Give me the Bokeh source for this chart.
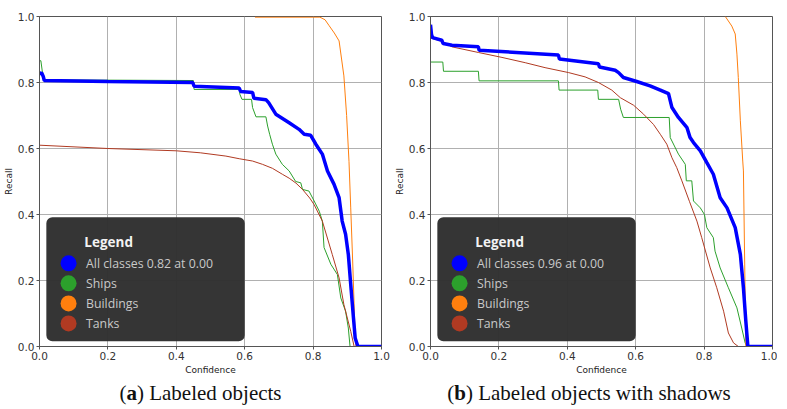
from bokeh.plotting import figure
from bokeh.models import BoxAnnotation, Div, ColumnDataSource, PrintfTickFormatter
from bokeh.layouts import row, column
from bokeh.core.properties import value
from bokeh.embed import file_html
from bokeh.resources import INLINE

# ---------------- data ----------------
series_names = ["All classes", "Ships", "Buildings", "Tanks"]
series_colors = ["#0000ff", "#2ca02c", "#ff7f0e", "#b03a22"]
legend_labels_a = ["All classes 0.82 at 0.00", "Ships", "Buildings", "Tanks"]
legend_labels_b = ["All classes 0.96 at 0.00", "Ships", "Buildings", "Tanks"]
tick_values = [0.0, 0.2, 0.4, 0.6, 0.8, 1.0]
captions = ["(<b>a</b>) Labeled objects", "(<b>b</b>) Labeled objects with shadows"]

# (a) Labeled objects
all_a_c = [0.0, 0.006, 0.011, 0.014, 0.2, 0.448, 0.452, 0.584, 0.588, 0.623, 0.627,
           0.662, 0.67, 0.691, 0.73, 0.759, 0.774, 0.793, 0.808, 0.827, 0.842, 0.861,
           0.876, 0.885, 0.895, 0.903, 0.91, 0.918, 0.923, 0.931, 1.0]
all_a_r = [0.825, 0.83, 0.818, 0.806, 0.803, 0.800, 0.789, 0.783, 0.773, 0.770, 0.752,
           0.748, 0.739, 0.704, 0.678, 0.658, 0.643, 0.640, 0.613, 0.583, 0.532, 0.492,
           0.451, 0.38, 0.34, 0.279, 0.188, 0.087, 0.026, 0.0, 0.0]
ships_a_c = [0.0, 0.004, 0.008, 0.013, 0.45, 0.452, 0.584, 0.586, 0.592, 0.62, 0.623,
             0.633, 0.662, 0.667, 0.673, 0.681, 0.691, 0.71, 0.73, 0.749, 0.764, 0.769,
             0.788, 0.803, 0.818, 0.827, 0.832, 0.852, 0.871, 0.881, 0.895, 0.903, 0.908]
ships_a_r = [0.866, 0.866, 0.835, 0.808, 0.806, 0.779, 0.779, 0.764, 0.749, 0.749, 0.724,
             0.696, 0.696, 0.668, 0.643, 0.613, 0.583, 0.552, 0.532, 0.50, 0.496, 0.476,
             0.471, 0.441, 0.41, 0.38, 0.30, 0.249, 0.218, 0.147, 0.107, 0.056, 0.0]
buildings_a_c = [0.63, 0.82, 0.835, 0.847, 0.862, 0.876, 0.89, 0.898, 0.905, 0.91,
                 0.916, 0.922, 0.925]
buildings_a_r = [0.998, 0.998, 0.99, 0.972, 0.95, 0.926, 0.82, 0.70, 0.56, 0.42,
                 0.25, 0.06, 0.0]
tanks_a_c = [0.0, 0.2, 0.4, 0.47, 0.545, 0.584, 0.623, 0.652, 0.681, 0.71, 0.73, 0.75,
             0.769, 0.79, 0.803, 0.827, 0.856, 0.876, 0.89, 0.91, 0.92]
tanks_a_r = [0.61, 0.60, 0.593, 0.587, 0.577, 0.569, 0.562, 0.552, 0.540, 0.522, 0.51,
             0.495, 0.476, 0.45, 0.43, 0.38, 0.279, 0.208, 0.127, 0.046, 0.0]

# (b) Labeled objects with shadows
all_b_c = [0.0, 0.003, 0.006, 0.033, 0.037, 0.063, 0.14, 0.142, 0.374, 0.377, 0.491,
           0.494, 0.54, 0.55, 0.564, 0.603, 0.642, 0.672, 0.696, 0.706, 0.725, 0.75,
           0.759, 0.769, 0.789, 0.808, 0.827, 0.847, 0.867, 0.891, 0.906, 0.915, 0.922,
           0.928, 1.0]
all_b_r = [0.975, 0.945, 0.936, 0.928, 0.918, 0.913, 0.908, 0.898, 0.883, 0.871, 0.857,
           0.847, 0.837, 0.83, 0.815, 0.803, 0.79, 0.777, 0.766, 0.724, 0.694, 0.663,
           0.633, 0.618, 0.593, 0.557, 0.522, 0.451, 0.42, 0.36, 0.279, 0.178, 0.077,
           0.0, 0.0]
ships_b_c = [0.0, 0.0, 0.036, 0.038, 0.14, 0.142, 0.374, 0.376, 0.489, 0.491, 0.55,
             0.556, 0.564, 0.698, 0.701, 0.725, 0.745, 0.748, 0.764, 0.769, 0.789,
             0.801, 0.808, 0.827, 0.832, 0.847, 0.871, 0.896, 0.91, 0.92, 0.925]
ships_b_r = [0.95, 0.862, 0.862, 0.834, 0.834, 0.805, 0.805, 0.777, 0.777, 0.749, 0.749,
             0.719, 0.694, 0.694, 0.633, 0.583, 0.552, 0.502, 0.502, 0.441, 0.42,
             0.40, 0.36, 0.33, 0.289, 0.238, 0.178, 0.117, 0.056, 0.011, 0.0]
buildings_b_c = [0.862, 0.881, 0.891, 0.896, 0.90, 0.906, 0.913, 0.915, 0.922]
buildings_b_r = [1.0, 0.971, 0.947, 0.886, 0.815, 0.684, 0.562, 0.532, 0.0]
tanks_b_c = [0.0, 0.033, 0.063, 0.14, 0.209, 0.277, 0.335, 0.404, 0.452, 0.491, 0.53,
             0.555, 0.594, 0.623, 0.652, 0.672, 0.691, 0.706, 0.72, 0.735, 0.757, 0.779,
             0.793, 0.818, 0.837, 0.857, 0.871, 0.886, 0.90]
tanks_b_r = [0.935, 0.925, 0.908, 0.891, 0.876, 0.86, 0.845, 0.83, 0.817, 0.80, 0.777,
             0.754, 0.731, 0.704, 0.673, 0.643, 0.613, 0.572, 0.542, 0.502, 0.44, 0.38,
             0.33, 0.238, 0.178, 0.107, 0.041, 0.011, 0.0]

# legend layout (data units inside each panel)
LEG_BOX = dict(left=0.02, right=0.6, bottom=0.016, top=0.392)
LEG_TITLE_XY = (0.131, 0.316)
LEG_MARK_X = 0.085
LEG_TEXT_X = 0.136
LEG_ROW0 = 0.252
LEG_ROW_STEP = 0.0607


def make_panel(curves, legend_labels, border_left, border_right):
    p = figure(frame_width=342, frame_height=330, x_range=(0, 1), y_range=(0, 1),
               output_backend="svg", toolbar_location=None,
               min_border_left=border_left, min_border_right=border_right,
               min_border_top=16, min_border_bottom=28)
    p.background_fill_color = "white"
    p.border_fill_color = "white"
    p.outline_line_color = "#555555"
    p.outline_line_width = 1
    for ax in (p.xaxis[0], p.yaxis[0]):
        ax.ticker = tick_values
        ax.formatter = PrintfTickFormatter(format="%.1f")
        ax.major_label_text_font = "DejaVu Sans"
        ax.major_label_text_font_size = "10.5px"
        ax.major_label_text_color = "#333333"
        ax.axis_label_text_font = "DejaVu Sans"
        ax.axis_label_text_font_size = "9px"
        ax.axis_label_text_font_style = "normal"
        ax.axis_label_text_color = "#222222"
        ax.axis_line_color = "#555555"
        ax.major_tick_line_color = "#555555"
        ax.major_tick_in = 0
        ax.major_tick_out = 3
        ax.minor_tick_line_color = None
        ax.major_label_standoff = 2
    p.xaxis.axis_label = "Confidence"
    p.yaxis.axis_label = "Recall"
    p.xaxis.axis_label_standoff = 2
    p.yaxis.axis_label_standoff = 1
    p.grid.grid_line_color = "#b0b0b0"
    p.grid.grid_line_width = 1

    # draw order: others first, "All classes" on top
    widths = [3.5, 1, 1, 1]
    for idx in [1, 2, 3, 0]:
        xs, ys = curves[idx]
        p.line(xs, ys, line_color=series_colors[idx], line_width=widths[idx])

    box = BoxAnnotation(fill_color="#2e2e2e", fill_alpha=0.97, line_color=None,
                        border_radius=6, **LEG_BOX)
    p.add_layout(box)

    rows_y = [LEG_ROW0 - i * LEG_ROW_STEP for i in range(len(legend_labels))]
    src = ColumnDataSource(dict(x=[LEG_MARK_X] * len(legend_labels), y=rows_y,
                                tx=[LEG_TEXT_X] * len(legend_labels),
                                label=legend_labels, color=series_colors))
    r1 = p.scatter("x", "y", source=src, size=16, fill_color="color", line_color=None)
    r1.level = "overlay"
    r2 = p.text("tx", "y", text="label", source=src, text_color="#c9c9c9",
                text_font=value("Open Sans"), text_font_size="12.3px",
                text_baseline="middle", text_align="left")
    r2.level = "overlay"
    r3 = p.text([LEG_TITLE_XY[0]], [LEG_TITLE_XY[1]], text=["Legend"],
                text_color="#f2f2f2", text_font=value("Open Sans"),
                text_font_size="13.5px", text_font_style="bold",
                text_baseline="middle", text_align="left")
    r3.level = "overlay"
    return p


p1 = make_panel([(all_a_c, all_a_r), (ships_a_c, ships_a_r),
                 (buildings_a_c, buildings_a_r), (tanks_a_c, tanks_a_r)],
                legend_labels_a, 35, 10)
p2 = make_panel([(all_b_c, all_b_r), (ships_b_c, ships_b_r),
                 (buildings_b_c, buildings_b_r), (tanks_b_c, tanks_b_r)],
                legend_labels_b, 38, 5)

cap_style = {"font-family": "Liberation Serif", "font-size": "21px", "color": "#111111",
             "text-align": "center", "width": "100%"}
wrap = '<div style="position:relative;top:-4px;line-height:1.1">{}</div>'
d1 = Div(text=wrap.format(captions[0]), width=387, height=24, styles=cap_style)
d2 = Div(text=wrap.format(captions[1]), width=385, height=24, styles=cap_style)

layout = row(column(p1, d1), column(p2, d2))

html = file_html(layout, INLINE)
open("out.html", "w").write(html)
